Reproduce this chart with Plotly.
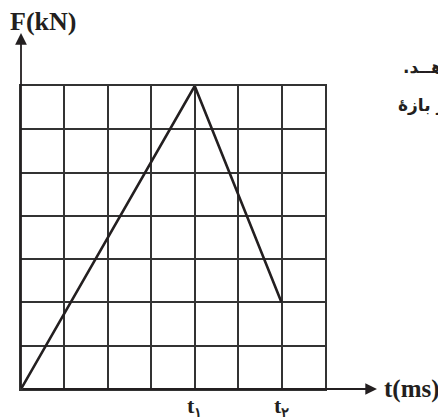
import plotly.graph_objects as go

# Force-time profile (grid units): rise to peak at t1, fall until t2
t_vals = [0, 4, 6]
f_vals = [0, 7, 2]

tick_positions = [4, 6]
tick_labels = ["t<sub>۱</sub>", "t<sub>۲</sub>"]

grid_cells = 7
ink = "#231f20"
grid_col = "#333333"
serif = "Liberation Serif, Times New Roman, serif"
RLM = "\u200f"

fig = go.Figure()
fig.add_trace(go.Scatter(
    x=t_vals, y=f_vals, mode="lines",
    line=dict(color=ink, width=2.6),
    cliponaxis=False, hoverinfo="skip", showlegend=False,
))

axis_common = dict(
    range=[0, grid_cells],
    zeroline=False, automargin=False,
    showline=True, mirror=True, linecolor=grid_col, linewidth=1.6,
    fixedrange=True,
)

fig.update_xaxes(
    **axis_common,
    showgrid=False,
    minor=dict(dtick=1, tick0=0, showgrid=True, gridcolor=grid_col,
               gridwidth=1.6, ticks=""),
    tickmode="array", tickvals=tick_positions,
    showticklabels=False, ticks="",
)
fig.update_yaxes(
    **axis_common,
    showgrid=True, gridcolor=grid_col, gridwidth=1.6,
    tickmode="linear", tick0=0, dtick=1,
    showticklabels=False, ticks="",
)

# Time markers t1, t2 under the axis
for pos, lab in zip(tick_positions, tick_labels):
    fig.add_annotation(
        x=pos, y=-0.008, xref="x", yref="paper",
        xanchor="center", yanchor="top", showarrow=False,
        text=lab, font=dict(family=serif, size=22, color=ink, weight="bold"),
    )

# Axis arrows extending past the grid
fig.add_annotation(
    x=1.171, y=0, xref="paper", yref="paper",
    ax=-356, ay=0, axref="pixel", ayref="pixel",
    text="", showarrow=True, arrowhead=2, arrowsize=1.3, arrowwidth=1.8,
    arrowcolor=ink,
)
fig.add_annotation(
    x=0, y=1.175, xref="paper", yref="paper",
    ax=0, ay=356, axref="pixel", ayref="pixel",
    text="", showarrow=True, arrowhead=2, arrowsize=1.3, arrowwidth=1.8,
    arrowcolor=ink,
)

# Axis titles
fig.add_annotation(
    x=-0.042, y=1.214, xref="paper", yref="paper",
    xanchor="left", yanchor="middle", showarrow=False,
    text="F(kN)", font=dict(family=serif, size=26, color=ink, weight="bold"),
)
fig.add_annotation(
    x=1.187, y=0, xref="paper", yref="paper",
    xanchor="left", yanchor="middle", showarrow=False,
    text="t(ms)", font=dict(family=serif, size=25, color=ink, weight="bold"),
)

# Surrounding problem text (runs past the right edge)
fig.add_annotation(
    x=1.322, y=1.063, xref="paper", yref="paper",
    xanchor="center", yanchor="middle", showarrow=False,
    text="هــد." + RLM,
    font=dict(family="DejaVu Sans", size=17, color=ink, weight="bold"),
)
fig.add_annotation(
    x=1.318, y=0.937, xref="paper", yref="paper",
    xanchor="center", yanchor="middle", showarrow=False,
    text="ر بازهٔ",
    font=dict(family="DejaVu Sans", size=17, color=ink, weight="bold"),
)

fig.update_layout(
    width=438, height=417,
    margin=dict(l=21, r=113, t=86, b=28),
    paper_bgcolor="white", plot_bgcolor="white",
    showlegend=False,
)

fig.write_html("out.html", config={"displayModeBar": False})
